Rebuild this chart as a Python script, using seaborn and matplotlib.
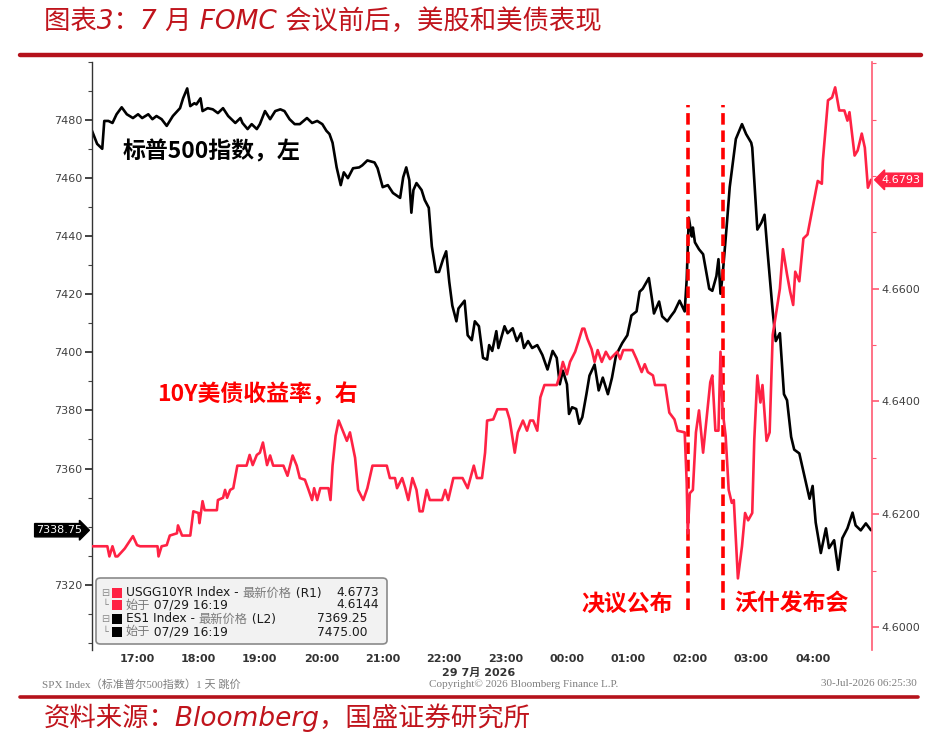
import matplotlib
matplotlib.use("Agg")
import matplotlib.pyplot as plt
import matplotlib.dates as mdates
from matplotlib.ticker import FixedLocator, MultipleLocator, FormatStrFormatter
from matplotlib.patches import FancyBboxPatch, Rectangle
from matplotlib.lines import Line2D
import seaborn as sns
import pandas as pd

# ---------------- data ----------------
SPX_TIME = ["16:16","16:21","16:26","16:28","16:32","16:36","16:40","16:45","16:50","16:56",
            "17:01","17:05","17:11","17:15","17:19","17:24","17:29","17:35","17:42","17:45",
            "17:49","17:52","17:56","17:58","18:02","18:04","18:09","18:14","18:19","18:24",
            "18:29","18:36","18:41","18:43","18:48","18:52","18:57","19:00","19:05","19:10",
            "19:15","19:20","19:24","19:29","19:34","19:39","19:46","19:51","19:56","20:01",
            "20:05","20:08","20:11","20:15","20:19","20:22","20:26","20:31","20:37","20:40",
            "20:45","20:52","20:55","21:00","21:05","21:10","21:17","21:20","21:23","21:26",
            "21:28","21:30","21:33","21:38","21:41","21:45","21:48","21:52","21:55","21:59",
            "22:02","22:05","22:08","22:12","22:14","22:20","22:23","22:27","22:30","22:34",
            "22:38","22:42","22:44","22:47","22:51","22:53","22:59","23:02","23:07","23:11",
            "23:15","23:18","23:22","23:26","23:31","23:36","23:41","23:46","23:50","23:53",
            "23:56","00:00","00:02","00:05","00:09","00:12","00:15","00:19","00:22","00:27",
            "00:31","00:35","00:40","00:44","00:48","00:54","00:59","01:03","01:08","01:11",
            "01:14","01:20","01:23","01:25","01:30","01:33","01:38","01:42","01:45","01:50",
            "01:55","01:57","01:59","02:02","02:03","02:05","02:09","02:13","02:19","02:22",
            "02:26","02:28","02:30","02:32","02:36","02:39","02:42","02:45","02:51","02:55",
            "03:00","03:01","03:06","03:10","03:13","03:16","03:21","03:24","03:28","03:32",
            "03:35","03:39","03:42","03:47","03:52","03:57","04:00","04:03","04:08","04:13",
            "04:16","04:21","04:25","04:29","04:34","04:39","04:42","04:47","04:52","04:57"]
SPX_VALUE = [7476.3,7471.8,7470.1,7479.7,7479.7,7479.0,7482.0,7484.4,7482.0,7480.7,
             7482.0,7480.7,7482.0,7480.3,7481.4,7480.3,7478.0,7481.4,7484.1,7487.5,
             7490.9,7484.8,7485.8,7485.4,7487.5,7483.1,7484.1,7483.7,7482.4,7484.1,
             7481.4,7479.0,7480.7,7479.0,7476.9,7478.6,7476.9,7478.6,7483.1,7480.3,
             7483.1,7483.7,7483.1,7480.3,7478.6,7478.6,7480.7,7479.0,7479.7,7478.6,
             7476.3,7475.2,7472.2,7463.7,7457.6,7462.0,7460.0,7463.4,7463.7,7464.4,
             7466.1,7465.4,7463.4,7456.9,7457.6,7454.9,7453.2,7460.3,7463.7,7459.3,
             7448.1,7455.9,7458.3,7455.9,7452.5,7449.8,7436.5,7427.7,7427.7,7432.1,
             7434.8,7424.3,7416.1,7410.7,7415.1,7417.8,7405.9,7404.2,7410.7,7409.0,
             7398.1,7397.5,7402.5,7400.5,7407.3,7401.5,7409.0,7406.6,7408.3,7403.9,
             7406.6,7401.5,7403.9,7401.5,7402.5,7399.1,7394.1,7400.5,7398.1,7389.0,
             7393.7,7389.0,7378.8,7381.1,7380.5,7375.4,7377.7,7385.6,7392.0,7395.8,
             7386.9,7391.3,7385.6,7391.3,7399.1,7403.2,7405.9,7412.7,7414.1,7420.9,
             7421.9,7425.6,7418.5,7413.4,7417.5,7412.4,7410.7,7412.7,7414.1,7417.8,
             7414.1,7425.3,7446.4,7439.9,7443.0,7437.9,7435.5,7433.8,7421.9,7421.2,
             7426.3,7432.1,7420.2,7426.3,7443.3,7456.9,7465.1,7473.5,7478.6,7475.2,
             7472.2,7470.5,7442.3,7444.7,7447.4,7434.5,7414.1,7403.9,7406.6,7385.6,
             7383.5,7370.9,7366.5,7365.2,7357.4,7349.6,7354.0,7341.4,7330.9,7339.4,
             7332.6,7335.3,7325.1,7336.0,7339.4,7344.8,7340.4,7338.7,7341.1,7338.75]

UST_TIME = ["16:16","16:31","16:33","16:36","16:39","16:41","16:48","16:56","17:00","17:03",
            "17:20","17:21","17:24","17:29","17:32","17:39","17:40","17:44","17:52","17:55",
            "18:00","18:01","18:04","18:06","18:18","18:19","18:24","18:26","18:28","18:31",
            "18:34","18:38","18:47","18:50","18:53","18:57","19:00","19:03","19:07","19:10",
            "19:13","19:23","19:27","19:32","19:36","19:39","19:44","19:47","19:51","19:53",
            "19:56","19:59","20:07","20:09","20:11","20:14","20:17","20:21","20:25","20:28",
            "20:33","20:36","20:41","20:45","20:50","21:04","21:07","21:12","21:14","21:19",
            "21:22","21:25","21:29","21:33","21:36","21:39","21:43","21:46","21:58","22:01",
            "22:04","22:09","22:18","22:23","22:29","22:32","22:37","22:40","22:42","22:48",
            "22:52","23:01","23:04","23:09","23:12","23:17","23:21","23:24","23:27","23:31",
            "23:34","23:38","23:50","23:53","23:56","00:00","00:03","00:08","00:11","00:15",
            "00:17","00:20","00:24","00:27","00:30","00:34","00:38","00:42","00:49","00:52",
            "00:55","01:04","01:08","01:13","01:16","01:19","01:24","01:26","01:36","01:40",
            "01:45","01:48","01:55","01:57","01:58","02:00","02:03","02:06","02:09","02:13",
            "02:17","02:20","02:22","02:25","02:28","02:30","02:32","02:35","02:38","02:41",
            "02:43","02:47","02:51","02:54","02:57","03:01","03:03","03:06","03:09","03:11",
            "03:15","03:18","03:21","03:25","03:28","03:31","03:35","03:38","03:41","03:43",
            "03:47","03:51","03:55","04:00","04:05","04:09","04:10","04:15","04:19","04:22",
            "04:26","04:31","04:34","04:36","04:41","04:44","04:48","04:51","04:54","04:57"]
UST_VALUE = [4.6143,4.6143,4.6125,4.6143,4.6125,4.6125,4.6139,4.6161,4.6145,4.6143,
             4.6143,4.6125,4.6143,4.6145,4.6162,4.6166,4.6180,4.6162,4.6162,4.6205,
             4.6202,4.6184,4.6223,4.6207,4.6207,4.6225,4.6229,4.6243,4.6229,4.6243,
             4.6246,4.6286,4.6286,4.6305,4.6287,4.6305,4.6309,4.6327,4.6287,4.6304,
             4.6286,4.6286,4.6268,4.6304,4.6286,4.6264,4.6261,4.6246,4.6225,4.6246,
             4.6225,4.6246,4.6246,4.6225,4.6286,4.6339,4.6366,4.6348,4.6330,4.6345,
             4.6300,4.6243,4.6225,4.6246,4.6286,4.6286,4.6264,4.6264,4.6246,4.6264,
             4.6246,4.6225,4.6264,4.6243,4.6205,4.6205,4.6243,4.6225,4.6225,4.6243,
             4.6225,4.6264,4.6264,4.6246,4.6286,4.6264,4.6264,4.6309,4.6366,4.6368,
             4.6386,4.6386,4.6368,4.6309,4.6345,4.6366,4.6348,4.6366,4.6366,4.6348,
             4.6407,4.6429,4.6429,4.6446,4.6470,4.6448,4.6470,4.6488,4.6505,4.6529,
             4.6529,4.6511,4.6493,4.6470,4.6491,4.6470,4.6488,4.6475,4.6488,4.6475,
             4.6491,4.6491,4.6475,4.6452,4.6466,4.6452,4.6446,4.6429,4.6429,4.6380,
             4.6368,4.6348,4.6345,4.6255,4.6166,4.6237,4.6243,4.6345,4.6384,4.6309,
             4.6380,4.6434,4.6446,4.6348,4.6348,4.6488,4.6384,4.6339,4.6243,4.6220,
             4.6225,4.6086,4.6143,4.6202,4.6189,4.6202,4.6332,4.6446,4.6398,4.6429,
             4.6330,4.6345,4.6518,4.6564,4.6600,4.6670,4.6625,4.6595,4.6571,4.6630,
             4.6613,4.6689,4.6696,4.6743,4.6791,4.6786,4.6827,4.6934,4.6939,4.6957,
             4.6916,4.6916,4.6898,4.6913,4.6836,4.6845,4.6875,4.6850,4.6779,4.6793]

EVENT_TIMES = ["01:58", "02:32"]
EVENT_LABELS = ["决议公布", "沃什发布会"]
LEFT_TICKS = [7320, 7360, 7380, 7400, 7420, 7440, 7460, 7480]
RIGHT_TICKS = [4.60, 4.62, 4.64, 4.66]
LEGEND_ROWS = [("USGG10YR Index - ", "最新价格", " (R1)", "4.6773"),
               ("", "始于", " 07/29 16:19", "4.6144"),
               ("ES1 Index - ", "最新价格", " (L2)", "7369.25"),
               ("", "始于", " 07/29 16:19", "7475.00")]
SPX_LAST = "7338.75"
UST_LAST = "4.6793"


def to_dt(s):
    h, m = map(int, s.split(":"))
    day = 29 if h >= 12 else 30
    return pd.Timestamp(2026, 7, day, h, m)


spx = pd.DataFrame({"time": [to_dt(t) for t in SPX_TIME], "value": SPX_VALUE})
ust = pd.DataFrame({"time": [to_dt(t) for t in UST_TIME], "value": UST_VALUE})

# ---------------- style ----------------
sns.set_style("white")
plt.rcParams["font.family"] = ["DejaVu Sans", "Noto Sans CJK SC"]
plt.rcParams["axes.unicode_minus"] = False
CJK = ["Noto Sans CJK SC", "DejaVu Sans"]
LAT_CJK = ["DejaVu Sans", "Noto Sans CJK SC"]
DARKRED = "#C0141C"
LINE_RED = "#FF2244"
AX_RED = "#FF5A72"

W, H = 930, 743
fig = plt.figure(figsize=(W / 100, H / 100), dpi=100)
fig.patch.set_facecolor("white")


def fx(x):
    return x / W


def fy(y):
    return 1 - y / H


ax = fig.add_axes([fx(92), fy(650), fx(872) - fx(92), fy(62) - fy(650)])
ax2 = ax.twinx()

sns.lineplot(data=spx, x="time", y="value", ax=ax, color="black", linewidth=1.9)
sns.lineplot(data=ust, x="time", y="value", ax=ax2, color=LINE_RED, linewidth=1.9)

# axes limits
ax.set_xlim(to_dt("16:16"), to_dt("04:58"))
ax.set_ylim(7297.5, 7500)
ax2.set_ylim(4.5959, 4.7002)

for a in (ax, ax2):
    a.set_xlabel("")
    a.set_ylabel("")
    a.set_facecolor("none")
    for s in ("top", "bottom"):
        a.spines[s].set_visible(False)
ax.spines["right"].set_visible(False)
ax2.spines["left"].set_visible(False)
ax.spines["left"].set_color("#333333")
ax.spines["left"].set_linewidth(1.0)
ax2.spines["right"].set_color(AX_RED)
ax2.spines["right"].set_linewidth(1.2)

ax.yaxis.set_major_locator(FixedLocator(LEFT_TICKS))
ax.yaxis.set_minor_locator(MultipleLocator(10))
ax.yaxis.set_major_formatter(FormatStrFormatter("%d"))
ax.tick_params(axis="y", which="major", direction="out", length=5, width=1.2,
               color="#222222", labelsize=8, labelcolor="#404040", pad=2)
ax.tick_params(axis="y", which="minor", direction="out", length=3, width=0.8, color="#444444")

ax2.yaxis.set_major_locator(FixedLocator(RIGHT_TICKS))
ax2.yaxis.set_minor_locator(MultipleLocator(0.01))
ax2.yaxis.set_major_formatter(FormatStrFormatter("%.4f"))
ax2.tick_params(axis="y", which="major", direction="out", length=5, width=1.2,
                color=AX_RED, labelsize=8, labelcolor="#404040", pad=2)
ax2.tick_params(axis="y", which="minor", direction="out", length=3, width=0.8, color=AX_RED)

ax.xaxis.set_major_locator(mdates.HourLocator())
ax.xaxis.set_major_formatter(mdates.DateFormatter("%H:%M"))
ax.tick_params(axis="x", which="both", length=0, pad=3, labelsize=8, labelcolor="#333333")
for lbl in ax.get_xticklabels():
    lbl.set_fontweight("bold")
ax2.tick_params(axis="x", length=0)

# date label under the axis
ax.text(to_dt("22:34"), -0.03, "29 7月 2026", transform=ax.get_xaxis_transform(),
        ha="center", va="top", fontsize=8, fontweight="bold", color="#333333", family=LAT_CJK)

# event lines and labels
for t in EVENT_TIMES:
    ax.axvline(to_dt(t), ymin=0.068, ymax=0.927, color="#FF0000", linewidth=2.6,
               linestyle=(0, (3.2, 1.6)), zorder=6)
ax.text((673 - 92) / 780, (650 - 604) / 588, EVENT_LABELS[0], transform=ax.transAxes,
        ha="right", va="center", fontsize=16.5, color="#FF0000", family=CJK, fontweight="bold")
ax.text((734 - 92) / 780, (650 - 604) / 588, EVENT_LABELS[1], transform=ax.transAxes,
        ha="left", va="center", fontsize=16.5, color="#FF0000", family=CJK, fontweight="bold")

# series labels
ax.text((123 - 92) / 780, (650 - 152) / 588, "标普500指数，左", transform=ax.transAxes,
        ha="left", va="center", fontsize=16.5, color="black", family=CJK, fontweight="bold")
ax.text((157 - 92) / 780, (650 - 395) / 588, "10Y美债收益率，右", transform=ax.transAxes,
        ha="left", va="center", fontsize=16.5, color="#FF0000", family=CJK, fontweight="bold")

# last value markers
ax.annotate(SPX_LAST, xy=(0, float(SPX_LAST)), xycoords=("axes fraction", "data"),
            xytext=(-7, 0), textcoords="offset points", ha="right", va="center",
            fontsize=8, color="white", annotation_clip=False, zorder=10,
            bbox=dict(boxstyle="rarrow,pad=0.15", fc="black", ec="black"))
ax2.annotate(UST_LAST, xy=(1, float(UST_LAST)), xycoords=("axes fraction", "data"),
             xytext=(7, 0), textcoords="offset points", ha="left", va="center",
             fontsize=8, color="white", annotation_clip=False, zorder=10,
             bbox=dict(boxstyle="larrow,pad=0.15", fc=LINE_RED, ec=LINE_RED))

# legend box (Bloomberg style)
box = FancyBboxPatch((4 / 780, 6 / 588), 291 / 780, 66 / 588,
                     boxstyle="round,pad=0,rounding_size=0.006", transform=ax2.transAxes,
                     fc="#F2F2F2", ec="#8A8A8A", lw=1.2, zorder=20)
ax2.add_patch(box)
row_y = [593, 605, 619, 632]
sq_colors = [LINE_RED, LINE_RED, "black", "black"]
val_right = [379, 379, 367, 367]
for i, (a_txt, cjk_txt, b_txt, val) in enumerate(LEGEND_ROWS):
    yy = (650 - row_y[i]) / 588
    icon = "⊟" if i % 2 == 0 else "└"
    ax2.text((105 - 92) / 780, yy, icon, transform=ax2.transAxes, ha="center", va="center",
             fontsize=7, color="#8A8A8A", zorder=21, family=["DejaVu Sans"])
    ax2.add_patch(Rectangle(((112 - 92) / 780, yy - 5 / 588), 10 / 780, 10 / 588,
                            transform=ax2.transAxes, fc=sq_colors[i], ec="none", zorder=21))
    x0 = (126 - 92) / 780
    if a_txt:
        t1 = ax2.text(x0, yy, a_txt, transform=ax2.transAxes, ha="left", va="center",
                      fontsize=8.8, color="#1A1A1A", zorder=21, family=LAT_CJK)
        t2 = ax2.annotate(cjk_txt, xy=(1, 0.5), xycoords=t1, ha="left", va="center",
                          fontsize=8.8, color="#7A7A7A", zorder=21, family=CJK)
    else:
        t2 = ax2.text(x0, yy, cjk_txt, transform=ax2.transAxes, ha="left", va="center",
                      fontsize=8.8, color="#7A7A7A", zorder=21, family=CJK)
    ax2.annotate(b_txt, xy=(1, 0.5), xycoords=t2, ha="left", va="center",
                 fontsize=8.8, color="#1A1A1A", zorder=21, family=LAT_CJK)
    ax2.text((val_right[i] - 92) / 780, yy, val, transform=ax2.transAxes, ha="right",
             va="center", fontsize=8.8, color="#1A1A1A", zorder=21)

# frame decorations
fig.add_artist(Line2D([fx(20), fx(921)], [fy(55), fy(55)], color="#B5121B", lw=3.2))
fig.add_artist(Line2D([fx(20), fx(918)], [fy(697), fy(697)], color="#B5121B", lw=2.6))

fig.text(fx(44), fy(22), "图表3：7 月 FOMC 会议前后，美股和美债表现", ha="left", va="center",
         fontsize=19, color=DARKRED, style="italic", family=LAT_CJK)
fig.text(fx(44), fy(718), "资料来源：Bloomberg，国盛证券研究所", ha="left", va="center",
         fontsize=19, color=DARKRED, style="italic", family=LAT_CJK)

SERIF = ["Liberation Serif", "Noto Sans CJK SC"]
fig.text(fx(42), fy(684), "SPX Index（标准普尔500指数）1 天 跳价", ha="left", va="center",
         fontsize=8, color="#7F7F7F", family=SERIF)
fig.text(fx(524), fy(684), "Copyright© 2026 Bloomberg Finance L.P.", ha="center", va="center",
         fontsize=8, color="#7F7F7F", family=SERIF)
fig.text(fx(917), fy(684), "30-Jul-2026 06:25:30", ha="right", va="center",
         fontsize=8, color="#7F7F7F", family=SERIF)

fig.savefig("out.png", dpi=100, facecolor="white")
